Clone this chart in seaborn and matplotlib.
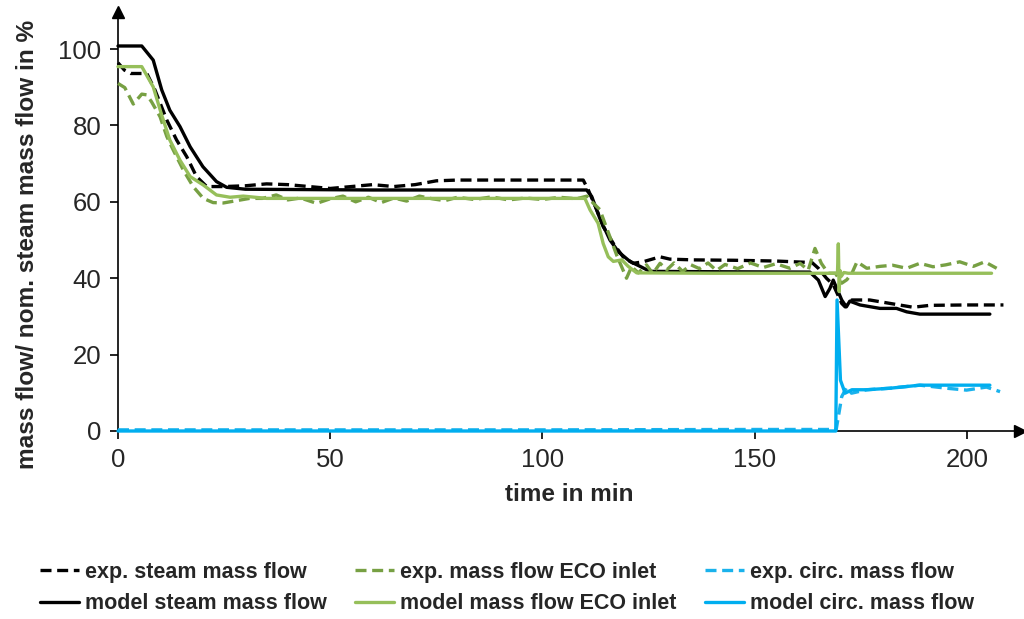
import numpy as np
import pandas as pd
import matplotlib
matplotlib.use("Agg")
import matplotlib.pyplot as plt
import seaborn as sns

# ---------------- data ----------------
exp_steam_t = [0, 1.5, 3, 6.8, 8.7, 11.5, 13.8, 16.2, 18.5, 20.9, 25, 30, 35, 40, 45, 50, 55, 60, 65, 70,
               75, 80, 90, 100, 109.6, 110.8, 112.8, 114.3, 116.7, 119, 121.4, 123.7, 127.7, 130, 135.5,
               145, 155, 163.5, 165, 166.9, 168.5, 170.5, 171.3, 172.9, 177.1, 181.9, 187.3, 191.3, 200, 208.6]
exp_steam_v = [96.4, 94.5, 93.6, 93.6, 89.3, 81.4, 76.2, 71.8, 66.6, 64, 64, 64.2, 64.7, 64.5, 64, 63.5, 64,
               64.5, 64, 64.5, 65.5, 65.7, 65.7, 65.7, 65.7, 63.1, 57.9, 53.5, 49.1, 45.6, 43.9, 44.3, 45.6,
               45, 44.8, 44.7, 44.5, 44.1, 42.6, 40, 38.3, 33.4, 32.5, 34.3, 34.3, 33.4, 32.4, 32.9, 33, 33]

model_steam_t = [0, 5.6, 8.3, 10.3, 12.2, 14.6, 17, 20, 23.2, 25.6, 30, 60, 90, 110.4, 111.6, 113.5, 115.9,
                 117.9, 120.6, 123, 125.3, 140, 163, 165, 166.6, 167.7, 168.5, 170.5, 171.6, 172.4, 174.8,
                 179.5, 183.4, 185.8, 188.9, 205.4]
model_steam_v = [100.8, 100.8, 97.1, 89.3, 84, 79.7, 74.4, 69.2, 65.3, 63.8, 63.3, 63.1, 63.1, 63.1, 61.4,
                 55.7, 50, 46.9, 44.4, 43.1, 41.8, 41.7, 41.6, 39.5, 35.2, 37.3, 39.5, 34.3, 32.5, 34, 33,
                 32.1, 32.1, 31.2, 30.6, 30.6]

exp_eco_t = [0, 1.6, 3.6, 5.6, 6.8, 7.9, 9.9, 11.5, 13, 15.4, 17.7, 20.1, 22.4, 24.8, 27.9, 31, 34, 37.3, 40,
             43, 46.8, 50, 53, 56, 59, 62, 65, 68, 71, 74, 77, 80, 84, 88, 92, 96, 100, 104, 108, 110.5, 112,
             113.5, 115.5, 117.5, 119.8, 121, 122.6, 124.5, 126, 127.7, 129.3, 131, 133, 135, 137, 139, 141,
             143, 146, 149, 152, 155, 158.3, 160.7, 162.6, 164.2, 165.7, 167.3, 169, 170.5, 171.7, 172.9,
             174.1, 176.4, 179.5, 182.5, 185.8, 188.9, 192, 195, 198.3, 201.5, 204.2, 207]
exp_eco_v = [91, 89.9, 85.6, 88.2, 88, 86.2, 82.3, 77.1, 73.6, 68.3, 64, 60.9, 59.8, 59.7, 60.3, 60.9, 60.9,
             61.8, 60.5, 61, 59.6, 60.8, 61.5, 60, 61.2, 59.8, 61, 60.2, 61.5, 60.8, 60.3, 61.2, 60.6, 61.3,
             60.5, 61, 60.6, 61.2, 60.8, 61.5, 59.6, 58, 52, 46, 40, 43, 41.4, 43.5, 41.2, 43.9, 42.2, 44,
             41.8, 43.5, 42.5, 44, 42, 43.6, 42.5, 44, 42.8, 43.8, 42.6, 43.9, 42.1, 47.8, 43.9, 41.3, 41.3,
             38.7, 39.6, 41.3, 44.3, 42.6, 43.1, 43.4, 42.6, 43.9, 43, 43.5, 44.3, 43.1, 44.3, 42.6]

model_eco_t = [0, 5.6, 8.3, 10.3, 12.2, 14.6, 17, 20.1, 23.2, 26.4, 29.5, 35, 60, 90, 110, 111.2, 113.1,
               114.3, 115.5, 116.7, 118.7, 120.2, 122.2, 140, 169.5, 169.7, 169.9, 170.1, 170.4, 171, 172, 205.8]
model_eco_v = [95.4, 95.4, 90.1, 82.7, 76.2, 70.9, 66.6, 64.4, 61.8, 61.2, 61.5, 60.9, 60.9, 60.9, 60.9,
               57.9, 54.4, 49.1, 45.6, 44.4, 44.8, 43.1, 41.4, 41.3, 41.3, 49, 36.5, 42, 40.5, 41.5, 41.3, 41.3]

exp_circ_t = [0, 50, 100, 150, 169.2, 169.7, 170.5, 171.7, 172.8, 176.4, 181.9, 188.9, 195.2, 199.9, 204.6, 207.8]
exp_circ_v = [0.3, 0.3, 0.3, 0.4, 0.4, 3.7, 9, 11.5, 9.9, 10.8, 11.2, 12, 11.2, 10.7, 11.5, 10.3]

model_circ_t = [0, 169.1, 169.4, 170.2, 171.3, 172.9, 176.4, 181.9, 188.9, 205.4]
model_circ_v = [0, 0, 34.3, 13.3, 9.9, 10.8, 10.8, 11.2, 12, 12]

series_names = ["exp. steam mass flow", "model steam mass flow",
                "exp. mass flow ECO inlet", "model mass flow ECO inlet",
                "exp. circ. mass flow", "model circ. mass flow"]
x_ticks = [0, 50, 100, 150, 200]
y_ticks = [0, 20, 40, 60, 80, 100]

# ---------------- build table ----------------
pairs = [(exp_steam_t, exp_steam_v), (model_steam_t, model_steam_v),
         (exp_eco_t, exp_eco_v), (model_eco_t, model_eco_v),
         (exp_circ_t, exp_circ_v), (model_circ_t, model_circ_v)]
frames = []
for name, (t, v) in zip(series_names, pairs):
    frames.append(pd.DataFrame({"time": t, "value": v, "series": name}))
df = pd.concat(frames, ignore_index=True)

palette = {series_names[0]: "#000000", series_names[1]: "#000000",
           series_names[2]: "#77a043", series_names[3]: "#96bf5a",
           series_names[4]: "#1ab2ec", series_names[5]: "#00aeef"}
dashes = {series_names[0]: (3.3, 1.7), series_names[1]: "",
          series_names[2]: (3.3, 1.7), series_names[3]: "",
          series_names[4]: (3.3, 1.7), series_names[5]: ""}

# ---------------- plot ----------------
sns.set_theme(style="white")
plt.rcParams["font.family"] = ["Liberation Sans", "DejaVu Sans"]

fig = plt.figure(figsize=(10.24, 6.19), dpi=100)
ax = fig.add_axes([118 / 1024, (619 - 431) / 619, (1020 - 118) / 1024, (431 - 12) / 619])

sns.lineplot(data=df, x="time", y="value", hue="series", style="series",
             hue_order=series_names, style_order=series_names,
             palette=palette, dashes=dashes, estimator=None, sort=False,
             linewidth=2.4, ax=ax)

for ln in ax.lines:
    ln.set_clip_on(False)
    ln.set_zorder(3)

handles, labels = ax.get_legend_handles_labels()
ax.get_legend().remove()

ax.set_xlim(0, 212.5)
ax.set_ylim(0, 109.7)
ax.set_xticks(x_ticks)
ax.set_yticks(y_ticks)
ax.tick_params(axis="both", direction="out", length=6, width=1.2, color="black",
               labelsize=18.5, pad=6, bottom=True, left=True)
for side in ["top", "right"]:
    ax.spines[side].set_visible(False)
for side in ["left", "bottom"]:
    ax.spines[side].set_color("black")
    ax.spines[side].set_linewidth(1.2)

# arrow heads at axis ends
ax.plot(1, 0, marker=">", color="black", markersize=9, transform=ax.transAxes, clip_on=False, zorder=5)
ax.plot(0, 1, marker="^", color="black", markersize=9, transform=ax.transAxes, clip_on=False, zorder=5)

ax.set_xlabel("time in min", fontsize=17.5, fontweight="bold", labelpad=8)
ax.set_ylabel("mass flow/ nom. steam mass flow in %", fontsize=17.6, fontweight="bold")
ax.yaxis.set_label_coords(-0.088, 0.446)

fig.legend(handles, labels, loc="center", bbox_to_anchor=(0.495, 0.05), ncol=3, frameon=False,
           prop={"size": 15.5, "weight": "bold"}, handlelength=1.83, handletextpad=0.28,
           columnspacing=1.3, labelspacing=0.5)

fig.savefig("out.png", dpi=100)
